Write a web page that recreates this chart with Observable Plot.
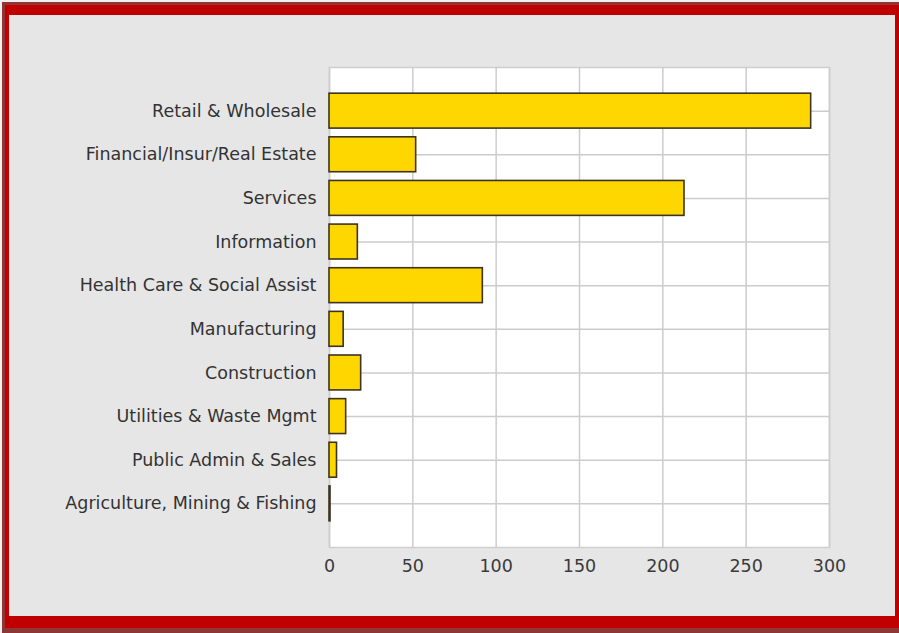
<!DOCTYPE html>
<html>
<head>
<meta charset="utf-8">
<script src="https://cdn.jsdelivr.net/npm/d3@7"></script>
<script src="https://cdn.jsdelivr.net/npm/@observablehq/plot@0.6"></script>
<style>
  html, body { margin: 0; padding: 0; background: #f0f0f0; }
  #outer { position: absolute; left: 2px; top: 2px; width: 897px; height: 631px; background: #8e3535; }
  #red { position: absolute; left: 3px; top: 3px; width: 894px; height: 623px; background: #c00000; }
  #gray { position: absolute; left: 4px; top: 10px; width: 886px; height: 601px; background: #e6e6e6; }
  #chart { position: absolute; left: 0; top: 0; }
</style>
</head>
<body>
<div id="outer"><div id="red"><div id="gray"><div id="chart"></div></div></div></div>
<script>
const categories = [
  "Retail & Wholesale",
  "Financial/Insur/Real Estate",
  "Services",
  "Information",
  "Health Care & Social Assist",
  "Manufacturing",
  "Construction",
  "Utilities & Waste Mgmt",
  "Public Admin & Sales",
  "Agriculture, Mining & Fishing"
];
const values = [289, 52, 213, 17, 92, 8.5, 19, 10, 4.5, 0.6];
const xTicks = [0, 50, 100, 150, 200, 250, 300];

const data = categories.map((c, i) => ({category: c, value: values[i]}));

const chart = Plot.plot({
  width: 886,
  height: 601,
  marginLeft: 320,
  marginRight: 66,
  marginTop: 52,
  marginBottom: 69,
  style: {fontFamily: "'DejaVu Sans', Verdana, sans-serif", fontSize: "17.5px", color: "#333333", background: "transparent"},
  x: {domain: [0, 300], ticks: xTicks, label: null},
  y: {domain: categories, paddingInner: 0.2, paddingOuter: 0.6, round: false, label: null},
  marks: [
    Plot.frame({fill: "white", stroke: "#cfcfcf", strokeWidth: 1.5}),
    Plot.gridX(xTicks, {stroke: "#cccccc", strokeOpacity: 1, strokeWidth: 1.5}),
    Plot.gridY(categories, {stroke: "#cccccc", strokeOpacity: 1, strokeWidth: 1.5}),
    Plot.barX(data, {x: "value", y: "category", fill: "#ffd700", stroke: "#3d3320", strokeWidth: 1.6}),
    Plot.axisX(xTicks, {tickSize: 0, tickPadding: 12, fill: "#3a3a3a"}),
    Plot.axisY(categories, {tickSize: 0, tickPadding: 13, fill: "#333333"})
  ]
});
document.getElementById("chart").appendChild(chart);
</script>
</body>
</html>
